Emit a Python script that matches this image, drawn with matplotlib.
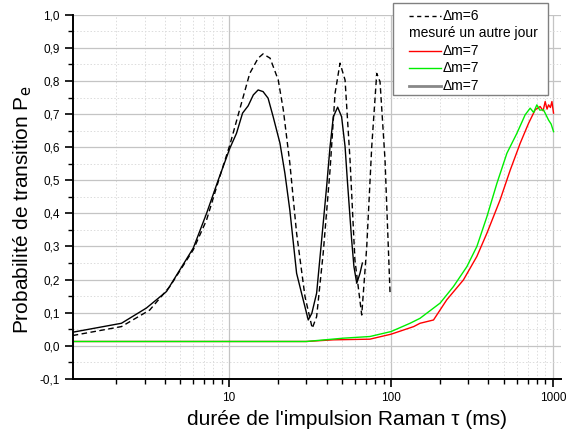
import numpy as np
import matplotlib
matplotlib.use("Agg")
import matplotlib.pyplot as plt
from matplotlib.ticker import LogLocator, MultipleLocator, FuncFormatter
from matplotlib.lines import Line2D
from matplotlib.patches import Rectangle

plt.rcParams['font.family'] = ['Liberation Sans', 'DejaVu Sans']

# dm=6, dashed black
tau_6 = [1.08, 2.16, 3.23, 4.3, 6.0, 7.25, 8.75, 10.1, 11.6, 13.4, 15.1, 16.2, 17.9,
         20.1, 21.6, 23.7, 26.1, 29.4, 32.6, 34.7, 38.1, 42.0, 45.1, 48.4, 52.0,
         55.8, 59.8, 65.9, 70.8, 76.0, 81.6, 85.5, 91.8, 98.6]
p_6 = [0.031, 0.058, 0.108, 0.179, 0.29, 0.38, 0.511, 0.607, 0.713, 0.823, 0.869, 0.882,
       0.869, 0.803, 0.713, 0.552, 0.34, 0.149, 0.053, 0.088, 0.28, 0.531, 0.763, 0.854,
       0.803, 0.562, 0.26, 0.093, 0.30, 0.602, 0.823, 0.798, 0.562, 0.159]

# dm=7, black solid
tau_7b = [1.08, 2.16, 3.08, 4.1, 6.0, 7.25, 8.55, 10.1, 11.1, 12.1, 13.1, 14.1, 15.1,
          16.2, 17.4, 18.7, 20.6, 22.1, 23.7, 26.1, 28.0, 30.8, 32.4, 34.7, 38.1,
          40.0, 42.0, 44.0, 46.8, 49.5, 52.0, 53.7, 57.1, 59.0, 61.4, 64.3, 66.5]
p_7b = [0.041, 0.068, 0.114, 0.164, 0.295, 0.40, 0.50, 0.597, 0.642, 0.703, 0.725, 0.758,
        0.773, 0.768, 0.748, 0.692, 0.612, 0.521, 0.41, 0.219, 0.159, 0.078, 0.098,
        0.159, 0.37, 0.481, 0.602, 0.692, 0.721, 0.692, 0.602, 0.501, 0.32, 0.239,
        0.189, 0.219, 0.25]

# dm=7, red
tau_7r = [1.08, 10, 30, 44, 74, 100, 138, 151, 183, 221, 280, 339, 391, 472, 545,
          628, 707, 777, 834, 870, 896, 920, 940, 965, 986, 1009]
p_7r = [0.013, 0.013, 0.013, 0.018, 0.02, 0.035, 0.058, 0.068, 0.078, 0.139, 0.199,
        0.27, 0.34, 0.441, 0.531, 0.612, 0.672, 0.713, 0.723, 0.71, 0.738, 0.715,
        0.728, 0.72, 0.738, 0.703]

# dm=7, green
tau_7g = [1.08, 10, 30, 50.7, 74, 100, 131, 151, 201, 243, 294, 339, 391, 451, 520,
          599, 674, 724, 760, 796, 830, 875, 940, 975, 1009]
p_7g = [0.013, 0.013, 0.013, 0.023, 0.028, 0.043, 0.068, 0.083, 0.129, 0.179, 0.239,
        0.30, 0.39, 0.491, 0.582, 0.642, 0.698, 0.718, 0.705, 0.728, 0.712, 0.713,
        0.682, 0.67, 0.647]

W, H = 568, 436
fig = plt.figure(figsize=(W / 100, H / 100), dpi=100)
ax = fig.add_axes([0.128, 0.131, 0.86, 0.835])

ax.plot(tau_7r, p_7r, color='#ff0000', lw=1)
ax.plot(tau_7g, p_7g, color='#00ee00', lw=1)
ax.plot(tau_7b, p_7b, color='black', lw=1)
ax.plot(tau_6, p_6, color='black', lw=1, ls=(0, (4, 2.5)))

ax.set_xscale('log')
ax.set_xlim(1.08, 1125)
ax.set_ylim(-0.1, 1.0)

ax.xaxis.set_major_locator(LogLocator(base=10))
ax.xaxis.set_minor_locator(LogLocator(base=10, subs=np.arange(2, 10)))
ax.xaxis.set_major_formatter(FuncFormatter(lambda v, p: '%d' % v))
ax.xaxis.set_minor_formatter(FuncFormatter(lambda v, p: ''))
ax.yaxis.set_major_locator(MultipleLocator(0.1))
ax.yaxis.set_minor_locator(MultipleLocator(0.05))
ax.yaxis.set_major_formatter(FuncFormatter(lambda v, p: ('%.1f' % v).replace('.', ',').replace('-0,0', '0,0')))

ax.grid(which='major', color='#c4c4c4', lw=0.9, ls='-')
ax.grid(which='minor', color='#dcdcdc', lw=0.7, ls=(0, (1.5, 2)))
ax.set_axisbelow(True)

for s in ['top', 'right']:
    ax.spines[s].set_visible(False)
for s in ['left', 'bottom']:
    ax.spines[s].set_linewidth(1.4)

ax.tick_params(which='major', direction='out', length=6, width=1.2, labelsize=8.5)
ax.tick_params(which='minor', direction='out', length=3.5, width=1)

ax.set_xlabel("durée de l'impulsion Raman τ (ms)", fontsize=15, labelpad=5)
ax.xaxis.set_label_coords(0.562, -0.085)
ax.set_ylabel(r"Probabilité de transition P$_{\mathrm{e}}$", fontsize=15)
ax.yaxis.set_label_coords(-0.08, 0.464)

# legend box drawn by hand (Origin style, text-only second row)
def fx(x):
    return x / W

def fy(y):
    return 1 - y / H

fig.add_artist(Rectangle((fx(393), fy(95)), fx(548) - fx(393), fy(3) - fy(95),
                         transform=fig.transFigure, facecolor='white',
                         edgecolor='#808080', lw=1, zorder=5))
rows = [
    (16, dict(color='black', lw=1, ls=(0, (3, 2.5))), 'Δm=6'),
    (33, None, 'mesuré un autre jour'),
    (51, dict(color='#ff0000', lw=1), 'Δm=7'),
    (68, dict(color='#00ee00', lw=1), 'Δm=7'),
    (86, dict(color='#888888', lw=2), 'Δm=7'),
]
for y, style, label in rows:
    if style is None:
        fig.text(fx(409), fy(y), label, fontsize=10, va='center', ha='left', zorder=6)
    else:
        fig.add_artist(Line2D([fx(409), fx(441)], [fy(y), fy(y)],
                              transform=fig.transFigure, zorder=6, **style))
        fig.text(fx(443), fy(y), label, fontsize=10, va='center', ha='left', zorder=6)

fig.savefig('out.png', dpi=100)
